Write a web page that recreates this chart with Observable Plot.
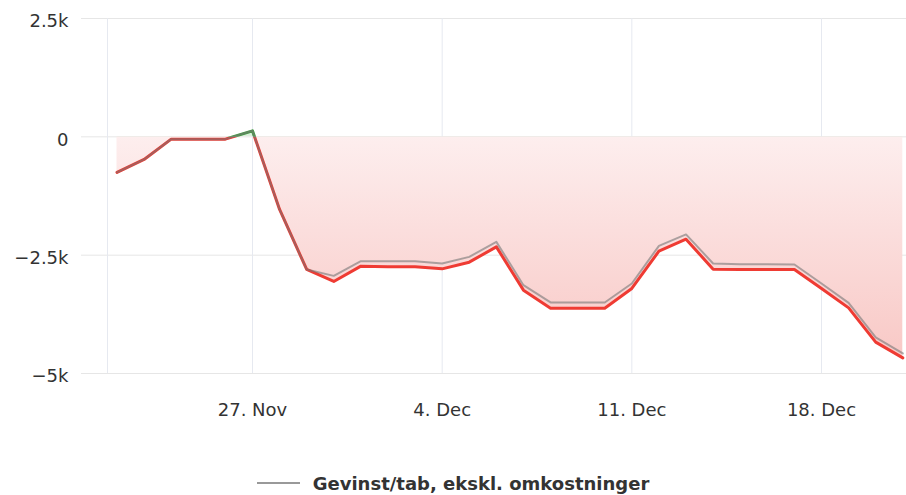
<!DOCTYPE html>
<html><head><meta charset="utf-8">
<script src="https://cdn.jsdelivr.net/npm/d3@7"></script>
<script src="https://cdn.jsdelivr.net/npm/@observablehq/plot@0.6"></script>
<style>
body{margin:0;background:#fff;font-family:"DejaVu Sans",sans-serif;}
#legend{height:36px;display:flex;justify-content:center;align-items:center;font:bold 18px "DejaVu Sans",sans-serif;color:#333;}
#legend .sym{display:inline-block;width:43px;height:2px;background:#999;margin-right:13px;}
</style></head><body><div id="chart"></div><div id="legend"><span class="sym"></span><span id="legtext"></span></div>
<script>
const dates = ["2023-11-22","2023-11-23","2023-11-24","2023-11-25","2023-11-26","2023-11-27","2023-11-28","2023-11-29","2023-11-30",
  "2023-12-01","2023-12-02","2023-12-03","2023-12-04","2023-12-05","2023-12-06","2023-12-07","2023-12-08","2023-12-09","2023-12-10",
  "2023-12-11","2023-12-12","2023-12-13","2023-12-14","2023-12-15","2023-12-16","2023-12-17","2023-12-18","2023-12-19","2023-12-20","2023-12-21"];
const exclCosts = [-752,-478,-49,-49,-49,127,-1534,-2802,-2937,-2626,-2626,-2626,-2675,-2536,-2219,-3134,-3499,-3499,-3499,
  -3098,-2303,-2062,-2675,-2690,-2690,-2696,-3098,-3508,-4239,-4577];
const inclCosts = [-752,-478,-49,-49,-49,127,-1534,-2802,-3055,-2732,-2747,-2747,-2789,-2648,-2324,-3239,-3620,-3620,-3620,
  -3203,-2415,-2162,-2796,-2802,-2802,-2802,-3203,-3613,-4338,-4670];
const xTicks = ["2023-11-27","2023-12-04","2023-12-11","2023-12-18"];
const yTicks = [2500, 0, -2500, -5000];
const xDomain = ["2023-11-21T15:35:00Z","2023-12-21T03:17:00Z"];
const yDomain = [-5000, 2500];
const legendLabel = "Gevinst/tab, ekskl. omkostninger";
document.getElementById("legtext").textContent = legendLabel;

const data = dates.map((d, i) => ({date: new Date(d), excl: exclCosts[i], incl: inclCosts[i]}));
const xTickDates = xTicks.map(d => new Date(d));
const fmtX = d3.utcFormat("%-d. %b");
const fmtY = v => v === 0 ? "0" : `${v / 1000}k`.replace("-", "\u2212");

// render wrapper that clips a mark to one side of the zero line
const clipTo = (id) => (index, scales, values, dims, context, next) => {
  const g = next(index, scales, values, dims, context);
  g.setAttribute("clip-path", `url(#${id})`);
  return g;
};

const chart = Plot.plot({
  width: 906,
  height: 465,
  marginLeft: 107,
  marginRight: 0,
  marginTop: 18,
  marginBottom: 92,
  style: {fontSize: "18px", fontFamily: "DejaVu Sans, sans-serif", color: "#333", background: "#fff"},
  x: {type: "utc", domain: xDomain.map(d => new Date(d))},
  y: {domain: yDomain},
  marks: [
    Plot.gridY(yTicks, {stroke: "#e6e6e6", strokeOpacity: 1, insetLeft: -26}),
    Plot.gridX(xTickDates, {stroke: "#e6e9f0", strokeOpacity: 1}),
    Plot.ruleX([new Date(xDomain[0])], {stroke: "#e6e9f0", strokeOpacity: 1}),
    Plot.areaY(data, {x: "date", y1: 0, y2: "incl", fill: "url(#negGrad)", render: clipTo("clipBelow")}),
    Plot.areaY(data, {x: "date", y1: 0, y2: "incl", fill: "#4caf50", fillOpacity: 0.2, render: clipTo("clipAbove")}),
    Plot.lineY(data, {x: "date", y: "incl", stroke: "#ef3b33", strokeWidth: 3, strokeLinejoin: "round", render: clipTo("clipBelow")}),
    Plot.lineY(data, {x: "date", y: "incl", stroke: "#3f9f3f", strokeWidth: 3, strokeLinejoin: "round", render: clipTo("clipAbove")}),
    Plot.lineY(data, {x: "date", y: "excl", stroke: "#777", strokeOpacity: 0.6, strokeWidth: 2, strokeLinejoin: "round"}),
    Plot.axisY(yTicks, {tickSize: 0, tickPadding: 39, tickFormat: fmtY, dy: 3, fill: "#333"}),
    Plot.axisX(xTickDates, {tickSize: 0, tickPadding: 30, tickFormat: fmtX, fill: "#333"})
  ]
});

// gradient + clip regions based on the y scale
const ys = chart.scale("y");
const y0 = ys.apply(0), yBot = ys.apply(yDomain[0]);
const svg = d3.select(chart);
const defs = svg.insert("defs", ":first-child");
const g = defs.append("linearGradient").attr("id", "negGrad").attr("gradientUnits", "userSpaceOnUse")
  .attr("x1", 0).attr("x2", 0).attr("y1", y0).attr("y2", yBot);
g.append("stop").attr("offset", "0%").attr("stop-color", "#fdeeee");
g.append("stop").attr("offset", "100%").attr("stop-color", "#f8c6c3");
defs.append("clipPath").attr("id", "clipBelow").append("rect")
  .attr("x", 0).attr("y", y0).attr("width", 906).attr("height", 465 - y0);
defs.append("clipPath").attr("id", "clipAbove").append("rect")
  .attr("x", 0).attr("y", 0).attr("width", 906).attr("height", y0);

document.getElementById("chart").appendChild(chart);
</script></body></html>
